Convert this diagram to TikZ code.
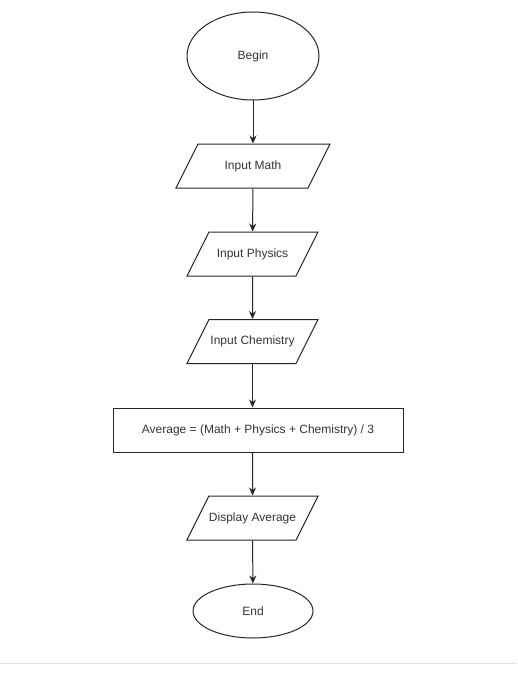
\documentclass[tikz,border=0pt]{standalone}
\usepackage{fontspec}
\setmainfont{Liberation Sans}
\usetikzlibrary{shapes.geometric,arrows.meta}

\tikzset{
  terminal/.style 2 args={ellipse, draw, minimum width=#1, minimum height=#2, inner sep=0pt},
  io/.style={trapezium, draw, trapezium left angle=63.4, trapezium right angle=116.6,
    trapezium stretches body, text height=9pt, text depth=3pt, inner ysep=16pt,
    inner xsep=0pt, minimum width=#1},
  process/.style={rectangle, draw, minimum width=290, minimum height=44, inner sep=0pt},
  flow/.style={-{Stealth[length=8pt,width=7pt]}}
}

\begin{document}
\begin{tikzpicture}[x=1pt, y=-1pt, line width=1pt, draw=black!85,
  every node/.style={text=black!80, font=\fontsize{12}{14}\selectfont}]
  \useasboundingbox (0,0) rectangle (517,674);
  % Bloques
  \node[terminal={132}{88}] (begin) at (253,56) {Begin};
  \node[io=154] (math) at (253,166) {Input Math};
  \node[io=131] (physics) at (252.5,254) {Input Physics};
  \node[io=131] (chem) at (252.5,341.5) {Input Chemistry};
  \node[process] (avg) at (258,430) {Average = (Math + Physics + Chemistry) / 3};
  \node[io=131] (disp) at (252.5,518) {Display Average};
  \node[terminal={120}{54}] (stop) at (253,611) {End};

  % Flechas
  \draw[flow] (begin) -- (math);
  \draw[flow] (math) -- (physics);
  \draw[flow] (physics) -- (chem);
  \draw[flow] (chem.south) -- (chem.south |- avg.north);
  \draw[flow] (avg.south -| disp.north) -- (disp);
  \draw[flow] (disp) -- (stop);

  % Linea de pagina
  \draw[black!12] (0,663) -- (517,663);
\end{tikzpicture}
\end{document}
